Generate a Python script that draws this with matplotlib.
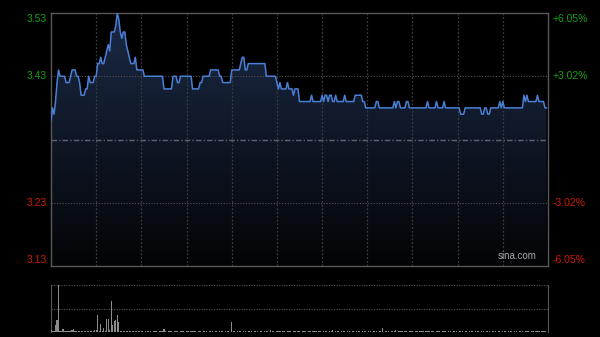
import numpy as np
import matplotlib.pyplot as plt
from matplotlib.colors import LinearSegmentedColormap

# === data ===
prev_close = 3.33
# intraday price as runs: level, number of minutes
price_levels = [3.36, 3.38, 3.37, 3.39, 3.42, 3.44, 3.43, 3.42, 3.43, 3.44,
                3.43, 3.42, 3.40, 3.41, 3.43, 3.42, 3.43, 3.45, 3.46, 3.45,
                3.46, 3.47, 3.48, 3.47, 3.50, 3.51, 3.53, 3.52, 3.50, 3.49,
                3.50, 3.48, 3.47, 3.46, 3.45, 3.46, 3.44, 3.43, 3.41, 3.43,
                3.42, 3.43, 3.41, 3.42, 3.43, 3.44, 3.43, 3.42, 3.44, 3.45,
                3.46, 3.44, 3.45, 3.43, 3.42, 3.41, 3.42, 3.41, 3.42, 3.41,
                3.40, 3.41, 3.39, 3.40, 3.39, 3.40, 3.39, 3.40, 3.39, 3.40,
                3.39, 3.40, 3.39, 3.40, 3.39, 3.40, 3.39, 3.38, 3.39, 3.38,
                3.39, 3.38, 3.39, 3.38, 3.39, 3.38, 3.39, 3.38, 3.39, 3.38,
                3.39, 3.38, 3.37, 3.38, 3.37, 3.38, 3.37, 3.38, 3.39, 3.38,
                3.39, 3.38, 3.40, 3.39, 3.40, 3.39, 3.40, 3.39, 3.38]
price_runs = [1, 1, 1, 1, 1, 1, 4, 3, 1, 3,
              2, 1, 3, 2, 1, 3, 2, 2, 1, 2,
              1, 1, 1, 1, 3, 1, 1, 1, 1, 1,
              2, 1, 1, 1, 3, 1, 5, 13, 6, 3,
              2, 8, 5, 2, 5, 6, 2, 6, 6, 1,
              2, 2, 12, 7, 1, 1, 1, 4, 1, 3,
              1, 3, 8, 1, 6, 1, 1, 2, 1, 2,
              2, 1, 5, 1, 6, 5, 2, 7, 2, 10,
              1, 1, 2, 4, 2, 12, 1, 5, 1, 4,
              1, 10, 3, 11, 2, 2, 2, 6, 1, 1,
              1, 13, 1, 1, 1, 6, 1, 4, 2]

# volume per minute (thousand shares)
volume = [20, 10, 15, 67, 117, 470, 15, 10, 33, 10, 15, 8, 10, 12, 20, 33, 10, 15, 8, 12,
          10, 15, 8, 10, 12, 8, 10, 15, 12, 23, 20, 167, 15, 83, 10, 43, 15, 133, 127, 20,
          307, 67, 110, 117, 167, 100, 15, 12, 10, 8, 12, 10, 15, 8, 10, 12, 8, 10, 15, 8,
          6, 8, 5, 10, 7, 6, 12, 5, 8, 6, 10, 5, 7, 9, 6, 33, 8, 5, 6, 10,
          7, 5, 8, 6, 12, 5, 7, 6, 9, 5, 8, 6, 5, 10, 7, 6, 8, 5, 9, 6,
          5, 8, 6, 7, 5, 10, 6, 8, 5, 7, 6, 5, 9, 6, 8, 5, 7, 6, 10, 5,
          100, 6, 8, 5, 7, 6, 9, 5, 8, 6, 5, 7, 6, 10, 5, 8, 6, 7, 5, 9,
          6, 5, 8, 6, 7, 5, 23, 6, 8, 5, 7, 6, 9, 5, 8, 6, 5, 7, 6, 8,
          5, 6, 7, 5, 8, 6, 5, 9, 6, 7, 5, 8, 6, 5, 7, 6, 8, 5, 9, 6,
          5, 7, 6, 8, 5, 6, 7, 23, 5, 8, 6, 7, 5, 9, 6, 8, 5, 6, 7, 5,
          8, 6, 5, 7, 6, 8, 5, 9, 6, 7, 5, 6, 8, 5, 7, 6, 9, 5, 8, 6,
          43, 5, 7, 6, 8, 5, 9, 6, 7, 23, 5, 8, 6, 7, 5, 6, 9, 5, 8, 6,
          7, 5, 6, 8, 5, 7, 6, 9, 5, 8, 6, 7, 5, 6, 8, 5, 7, 6, 9, 5,
          8, 6, 7, 5, 6, 8, 5, 7, 6, 9, 5, 8, 6, 7, 5, 6, 8, 5, 7, 6,
          9, 5, 8, 6, 7, 5, 6, 8, 5, 7, 6, 9, 5, 8, 6, 7, 5, 6, 8, 5,
          7, 6, 9, 5, 8, 6, 7, 5, 6, 8, 5, 7, 6, 9, 5, 8, 6, 7, 5, 6,
          8, 5, 7, 6, 9, 5, 8, 6, 7, 5]

y_ticks = [3.53, 3.43, 3.23, 3.13]
pct_labels = ["+6.05%", "+3.02%", "-3.02%", "-6.05%"]
n_minutes = 330

price = np.repeat(price_levels, price_runs)
minutes = np.arange(len(price))

plt.rcParams['font.family'] = ['Liberation Sans', 'DejaVu Sans']

fig = plt.figure(figsize=(6, 3.37), dpi=100, facecolor="black")
ax = fig.add_axes([51 / 600, 1 - 266 / 337, 497 / 600, 253 / 337])
axv = fig.add_axes([51 / 600, 1 - 332 / 337, 497 / 600, 47 / 337])

y_lo, y_hi = 3.13, 3.53

# --- price panel ---
ax.set_facecolor("black")
ax.set_xlim(0, n_minutes)
ax.set_ylim(y_lo, y_hi)

# gradient fill under the line
cmap = LinearSegmentedColormap.from_list("fill", ["#030406", "#1b2a46"])
grad = np.linspace(0, 1, 256).reshape(-1, 1)
img = ax.imshow(grad, cmap=cmap, aspect="auto", origin="lower",
                extent=[0, n_minutes, y_lo, y_hi], zorder=1)
poly = ax.fill_between(minutes, price, y_lo, color="none", zorder=1)
img.set_clip_path(poly.get_paths()[0], transform=ax.transData)

for m in range(30, n_minutes, 30):
    ax.axvline(m, color="#3c3c3c", lw=0.9, ls=(0, (1.5, 1.5)), zorder=2)
for v in [3.43, 3.23]:
    ax.axhline(v, color="#555555", lw=0.8, ls=(0, (1, 1.5)), zorder=2)
ax.axhline(prev_close, color="#5c6470", lw=1.0, ls=(0, (4, 1.5, 1, 1.5)), zorder=2)

ax.plot(minutes, price, color="#4a7fd6", lw=1.1, zorder=3)

for s in ax.spines.values():
    s.set_color("#585858")
    s.set_linewidth(1.0)
ax.set_xticks([])
ax.set_yticks([])

offsets = [-4.5, 0, 0, 4.5]
for v, pct, dy in zip(y_ticks, pct_labels, offsets):
    col = "#14a014" if v > prev_close else "#d01808"
    ax.annotate(f"{v:.2f}", xy=(0, v), xycoords=ax.get_yaxis_transform(),
                xytext=(-3, dy), textcoords="offset points",
                ha="right", va="center", color=col, fontsize=7.5)
    ax.annotate(pct, xy=(1, v), xycoords=ax.get_yaxis_transform(),
                xytext=(3.5, dy), textcoords="offset points",
                ha="left", va="center", color=col, fontsize=7.5)

ax.text(0.978, 0.018, "sina.com", transform=ax.transAxes, ha="right", va="bottom",
        color="#a8a8a8", fontsize=7)

# --- volume panel ---
axv.set_facecolor("black")
axv.bar(np.arange(len(volume)), volume, width=0.8, color="#8c8c8c", zorder=3)
vmax = max(volume)
axv.set_xlim(0, n_minutes)
axv.set_ylim(0, vmax)
axv.axhline(vmax, color="#4a4a4a", lw=0.9, ls=(0, (1, 1)), zorder=2)
axv.axhline(vmax / 2, color="#4a4a4a", lw=0.9, ls=(0, (1, 1)), zorder=2)
axv.axhline(0, color="#4a4a4a", lw=0.9, ls=(0, (1, 1)), zorder=2)
for k in ["top", "bottom"]:
    axv.spines[k].set_visible(False)
for k in ["left", "right"]:
    axv.spines[k].set_color("#585858")
axv.set_xticks([])
axv.set_yticks([])

fig.savefig("out.png", dpi=100, facecolor="black")
